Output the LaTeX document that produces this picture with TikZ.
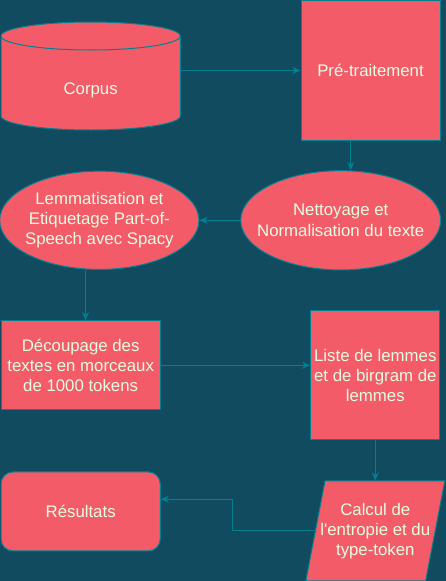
\documentclass[tikz,border=0pt]{standalone}
\usepackage{fontspec}
\setmainfont{Liberation Sans}
\usetikzlibrary{positioning, arrows.meta, shapes.geometric, backgrounds}

\definecolor{bgteal}{HTML}{114B5F}
\definecolor{boxred}{HTML}{F45B69}
\definecolor{edgeteal}{HTML}{028090}
\definecolor{txtcream}{HTML}{E4FDE1}

\begin{document}
\begin{tikzpicture}[
    x=1pt, y=-1pt,
    txt/.style={text=txtcream, font=\fontsize{16.8}{20.2}\selectfont, align=center},
    box/.style={txt, draw=edgeteal, fill=boxred, line width=1pt, inner sep=2pt},
    oval/.style={box, ellipse},
    slanted/.style={box, trapezium, trapezium left angle=79.2, trapezium right angle=100.8, trapezium stretches=true},
    arr/.style={-{Stealth[length=8pt, width=7pt, inset=2.5pt]}, draw=edgeteal, line width=1pt},
]
\useasboundingbox (0,0) rectangle (446,581);

% Corpus (cylinder drawn round the node)
\node[txt, minimum width=179.3pt, minimum height=94pt, outer sep=0pt, text height=22pt, text depth=0pt] (corpus) at (90.65,83) {Corpus};

% Top row
\node[box, minimum width=139pt, minimum height=139.5pt] (pre) at (370.5,70.4) {Pré-traitement};

% Second row: ellipses
\node[oval, minimum width=200pt, minimum height=99.3pt, label={[txt]center:Nettoyage et\\Normalisation du texte}] (nett) at (340.7,220.3) {};
\node[oval, minimum width=199.3pt, minimum height=98.3pt, left=40.7pt of nett, label={[txt]center:Lemmatisation et\\Etiquetage Part-of-\\Speech avec Spacy}] (lemma) {};

% Third row
\node[box, minimum width=159.3pt, minimum height=89.3pt] (decoup) at (80.65,365.3) {Découpage des\\textes en morceaux\\de 1000 tokens};
\node[box, minimum width=129.3pt, minimum height=129.3pt] (liste) at (375.3,375.3) {Liste de lemmes\\et de birgram de\\lemmes};

% Bottom row
\node[slanted, minimum width=139pt, minimum height=100pt, below=40pt of liste, label={[txt]center:Calcul de\\l\textquotesingle entropie et du\\type-token}] (calcul) {};
\node[box, rounded corners=12pt, minimum width=159.3pt, minimum height=79pt, below=61pt of decoup] (res) {Résultats};

\begin{scope}[on background layer]
\fill[bgteal] (0,0) rectangle (446,581);
\filldraw[fill=boxred, draw=edgeteal, line width=1pt] (corpus.north west) -- ([yshift=14pt]corpus.south west) arc[start angle=180, end angle=360, x radius=89.65pt, y radius=14pt] -- (corpus.north east) arc[start angle=0, end angle=180, x radius=89.65pt, y radius=14pt] -- cycle;
\draw[edgeteal, line width=1pt] (corpus.north west) arc[start angle=180, end angle=360, x radius=89.65pt, y radius=14pt];
\end{scope}

% Connectors
\draw[arr] (corpus.east |- pre.west) -- (pre.west);
\draw[arr] ([xshift=10pt]nett.north |- pre.south) -- ([xshift=10pt]nett.north);
\draw[arr] (nett.west) -- (lemma.east);
\draw[arr] ([xshift=-13.8pt]lemma.south) -- ([xshift=-13.8pt]lemma.south |- decoup.north);
\draw[arr] (decoup.east) -- (decoup.east -| liste.west);
\draw[arr] (liste.south) -- (calcul.north);
\coordinate (turn) at (232.7,499.3);
\draw[arr] (calcul.left side) -| (turn) -- (turn -| res.east);

\end{tikzpicture}
\end{document}
